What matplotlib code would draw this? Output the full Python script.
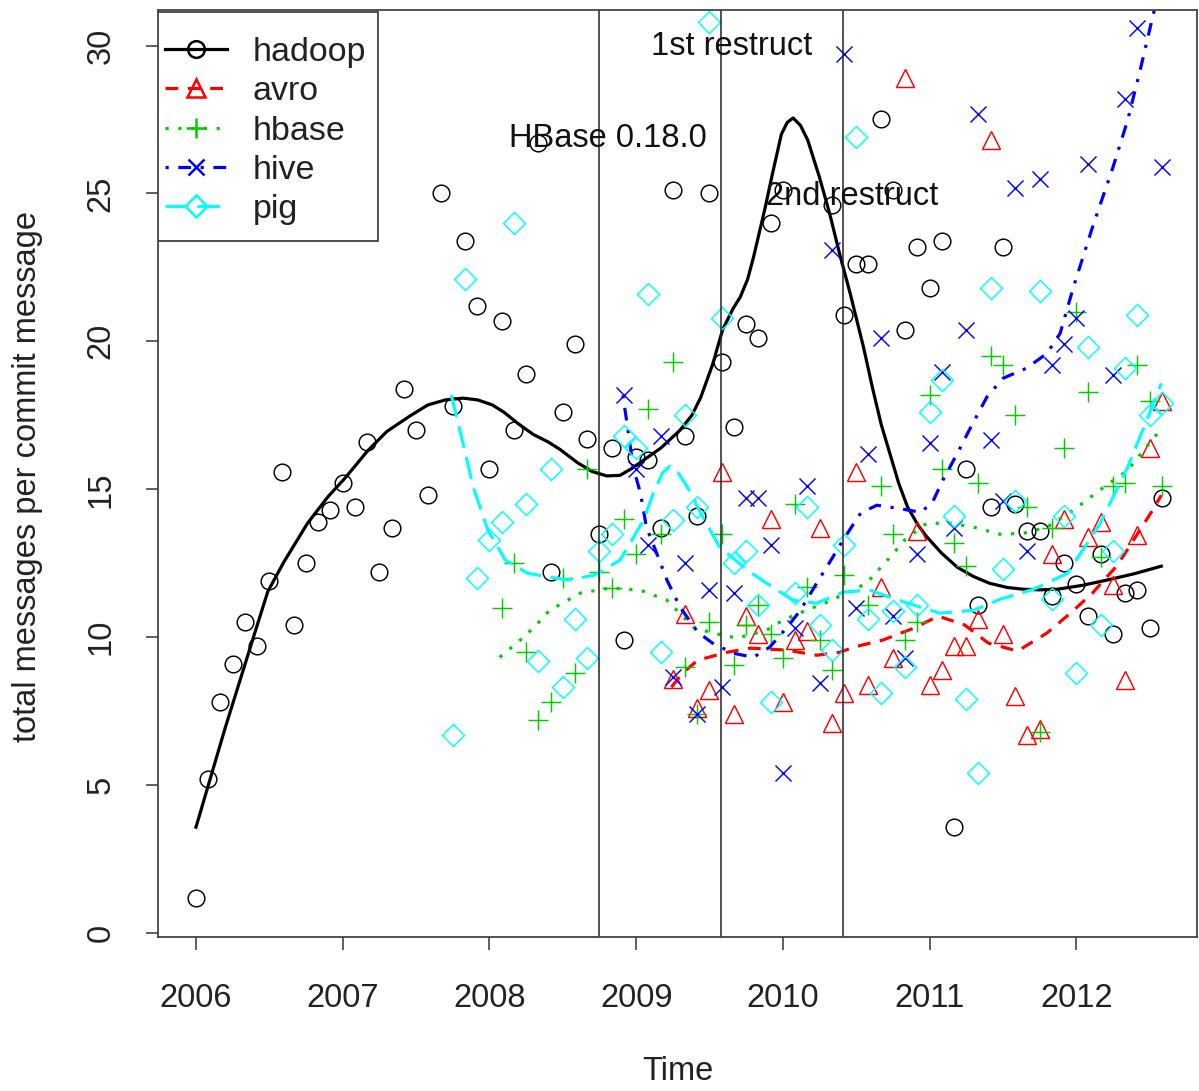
import numpy as np
import matplotlib
matplotlib.use("Agg")
import matplotlib.pyplot as plt
from matplotlib.patches import Rectangle

plt.rcParams['font.family'] = ['Liberation Sans', 'DejaVu Sans']

# monthly ratios, first month of each series given as month index from 2006-01
hadoop_start = 0
hadoop = [1.2, 5.2, 7.8, 9.1, 10.5, 9.7, 11.9, 15.6, 10.4, 12.5,
          13.9, 14.3, 15.2, 14.4, 16.6, 12.2, 13.7, 18.4, 17.0, 14.8,
          25.0, 17.8, 23.4, 21.2, 15.7, 20.7, 17.0, 18.9, 26.7, 12.2,
          17.6, 19.9, 16.7, 13.5, 16.4, 9.9, 16.1, 16.0, 13.7, 25.1,
          16.8, 14.1, 25.0, 19.3, 17.1, 20.6, 20.1, 24.0, 25.1, 33.0,
          35.0, 32.0, 24.6, 20.9, 22.6, 22.6, 27.5, 25.1, 20.4, 23.2,
          21.8, 23.4, 3.6, 15.7, 11.1, 14.4, 23.2, 14.5, 13.6, 13.6,
          11.4, 12.5, 11.8, 10.7, 12.8, 10.1, 11.5, 11.6, 10.3, 14.7]

avro_start = 39
avro = [8.6, 10.8, 7.6, 8.2, 15.6, 7.4, 10.7, 10.1, 14.0, 7.8,
        9.9, 10.2, 13.7, 7.1, 8.1, 15.6, 8.4, 11.7, 9.3, 28.9,
        13.6, 8.4, 8.9, 9.7, 9.7, 10.6, 26.8, 10.1, 8.0, 6.7,
        6.9, 12.8, 14.0, None, 13.4, 13.9, 11.75, 8.55, 13.45, 16.4,
        18.0]

hbase_start = 25
hbase = [11.0, 12.5, 9.5, 7.2, 7.8, 12.0, 8.8, 15.7, 12.2, 11.65,
         14.0, 12.8, 17.7, 13.5, 19.3, 9.0, 7.4, 10.5, 13.5, 9.05,
         10.4, 11.1, 10.1, 9.3, 14.5, 11.7, 9.9, 8.9, 12.1, None,
         11.1, 15.1, 13.5, 9.9, 10.5, 18.2, 15.7, 13.2, 12.4, 15.2,
         19.5, 19.2, 17.5, 14.4, 6.8, 13.7, 16.4, 21.0, 18.3, 12.7,
         15.1, 15.2, 19.2, 18.0, 15.1]

hive_start = 35
hive = [18.2, 15.7, 13.1, 16.8, 8.65, 12.5, 7.4, 11.6, 8.3, 11.5,
        14.7, 14.7, 13.1, 5.4, 10.3, 15.1, 8.45, 23.1, 29.7, 11.0,
        16.2, 20.1, 10.7, 9.3, 12.8, 16.55, 18.95, 13.7, 20.4, 27.7,
        16.65, 14.6, 25.2, 12.9, 25.5, 19.2, 19.9, 20.8, 26.0, 34.0,
        18.85, 28.2, 30.6, 38.0, 25.9]

pig_start = 21
pig = [6.7, 22.1, 12.0, 13.3, 13.9, 24.0, 14.5, 9.2, 15.7, 8.3,
       10.6, 9.3, 12.9, 13.5, 16.8, 16.4, 21.6, 9.5, 13.95, 17.5,
       14.4, 30.8, 20.8, 12.5, 12.9, 11.1, 7.8, None, 11.5, 14.4,
       10.4, 9.55, 13.1, 26.9, 10.6, 8.1, 10.9, 9.0, 11.1, 17.6,
       18.7, 14.1, 7.9, 5.4, 21.8, 12.3, 14.6, None, 21.7, 11.3,
       14.1, 8.8, 19.8, 10.4, 12.9, 19.1, 20.9, 17.5, 17.9]

# smoothed trend lines (year, value)
hadoop_fit_x = [2006.00, 2006.20, 2006.42, 2006.49, 2006.60, 2006.76, 2006.90, 2007.02,
                2007.17, 2007.30, 2007.45, 2007.58, 2007.70, 2007.82, 2007.92, 2008.02,
                2008.10, 2008.20, 2008.30, 2008.40, 2008.48, 2008.60, 2008.70, 2008.80,
                2008.89, 2008.97, 2009.05, 2009.17, 2009.30, 2009.38, 2009.44, 2009.52,
                2009.59, 2009.66, 2009.71, 2009.76, 2009.80, 2009.88, 2009.93, 2009.99,
                2010.03, 2010.07, 2010.12, 2010.17, 2010.25, 2010.32, 2010.39, 2010.46,
                2010.55, 2010.61, 2010.67, 2010.73, 2010.79, 2010.85, 2010.92, 2010.98,
                2011.08, 2011.19, 2011.30, 2011.41, 2011.53, 2011.64, 2011.75, 2011.87,
                2012.04, 2012.21, 2012.40, 2012.58]
hadoop_fit_y = [3.58, 6.95, 10.45, 11.55, 12.55, 13.85, 14.75, 15.40,
                16.30, 16.95, 17.45, 17.85, 18.02, 18.08, 18.02, 17.85,
                17.60, 17.20, 16.85, 16.60, 16.35, 15.90, 15.60, 15.45,
                15.47, 15.70, 15.98, 16.40, 17.00, 17.50, 18.10, 19.20,
                20.40, 21.10, 21.50, 22.10, 22.84, 24.53, 25.68, 27.00,
                27.40, 27.55, 27.30, 26.80, 25.54, 24.30, 22.90, 21.60,
                19.80, 18.45, 17.20, 16.20, 15.20, 14.40, 13.80, 13.40,
                12.85, 12.36, 12.05, 11.82, 11.68, 11.62, 11.60, 11.62,
                11.75, 11.93, 12.15, 12.40]

avro_fit_x = [2009.24, 2009.32, 2009.42, 2009.62, 2009.78, 2010.03, 2010.23, 2010.39,
              2010.48, 2010.68, 2010.89, 2011.06, 2011.24, 2011.40, 2011.60, 2011.80,
              2011.96, 2012.11, 2012.28, 2012.39, 2012.52, 2012.58]
avro_fit_y = [8.31, 8.80, 9.22, 9.49, 9.63, 9.56, 9.39, 9.49,
              9.66, 9.90, 10.30, 10.71, 10.41, 9.80, 9.53, 10.14,
              10.81, 11.49, 12.43, 13.28, 14.29, 14.80]

hbase_fit_x = [2008.07, 2008.21, 2008.32, 2008.41, 2008.62, 2008.82, 2009.03, 2009.21,
               2009.39, 2009.52, 2009.69, 2009.89, 2010.00, 2010.16, 2010.30, 2010.57,
               2010.73, 2010.83, 2010.98, 2011.14, 2011.30, 2011.48, 2011.64, 2011.80,
               2011.98, 2012.16, 2012.35, 2012.57]
hbase_fit_y = [9.32, 9.90, 10.41, 10.91, 11.49, 11.66, 11.59, 11.25,
               10.34, 10.14, 9.97, 10.24, 10.57, 10.91, 11.18, 11.82,
               12.70, 13.28, 13.85, 13.85, 13.72, 13.48, 13.51, 13.72,
               14.29, 14.97, 15.64, 16.99]

hive_fit_x = [2008.91, 2008.95, 2008.98, 2009.03, 2009.07, 2009.14, 2009.21, 2009.30,
              2009.42, 2009.52, 2009.66, 2009.80, 2009.91, 2010.03, 2010.12, 2010.23,
              2010.34, 2010.41, 2010.53, 2010.64, 2010.78, 2010.94, 2011.02, 2011.09,
              2011.19, 2011.28, 2011.39, 2011.50, 2011.66, 2011.80, 2011.89, 2011.98,
              2012.11, 2012.25, 2012.35, 2012.43, 2012.52, 2012.58]
hive_fit_y = [18.18, 16.80, 15.74, 14.86, 13.72, 12.84, 11.93, 11.01,
              10.17, 9.80, 9.46, 9.32, 9.66, 10.34, 10.91, 11.82,
              12.70, 13.28, 14.19, 14.46, 14.36, 14.22, 14.56, 15.30,
              16.22, 17.09, 18.11, 18.75, 19.09, 19.59, 20.27, 21.82,
              23.85, 25.88, 27.47, 29.05, 30.95, 32.20]

pig_fit_x = [2007.74, 2007.81, 2007.89, 2007.99, 2008.11, 2008.26, 2008.53, 2008.71,
             2008.89, 2009.05, 2009.12, 2009.18, 2009.23, 2009.28, 2009.35, 2009.44,
             2009.57, 2009.76, 2009.89, 2010.07, 2010.23, 2010.41, 2010.59, 2010.85,
             2011.07, 2011.30, 2011.48, 2011.71, 2011.94, 2012.16, 2012.35, 2012.50,
             2012.58]
pig_fit_y = [18.18, 16.76, 15.07, 13.61, 12.60, 12.16, 11.93, 12.09,
             12.60, 13.95, 14.90, 15.55, 15.78, 15.60, 15.07, 14.19,
             13.04, 12.26, 11.82, 11.25, 11.15, 11.52, 11.59, 11.15,
             10.81, 10.91, 11.28, 11.62, 12.16, 13.82, 15.74, 17.57,
             18.58]

events = [2008.75, 2009.58, 2010.41]
event_labels = ["HBase 0.18.0", "1st restruct", "2nd restruct"]
event_label_pos = [(2008.81, 26.85), (2009.65, 29.95), (2010.47, 24.9)]

names = ["hadoop", "avro", "hbase", "hive", "pig"]
colors = ["black", "#ff0000", "#00cd00", "#0000ff", "#00ffff"]
markers = ["o", "^", "+", "x", "D"]
msizes = [12, 13, 15, 12, 11]
dashes = [None, (4, 3), (1, 3), (1, 3, 4, 3), (7, 3)]

FS = 23.5


def months_to_years(start, n):
    return 2006 + (start + np.arange(n)) / 12.0


def main():
    W, H = 1199, 1091
    fig = plt.figure(figsize=(W / 100, H / 100), dpi=100)
    ax = fig.add_axes([158 / W, 1 - 937 / H, (1197 - 158) / W, (937 - 10) / H])

    series = [(hadoop_start, hadoop, hadoop_fit_x, hadoop_fit_y),
              (avro_start, avro, avro_fit_x, avro_fit_y),
              (hbase_start, hbase, hbase_fit_x, hbase_fit_y),
              (hive_start, hive, hive_fit_x, hive_fit_y),
              (pig_start, pig, pig_fit_x, pig_fit_y)]

    handles = []
    for i, (start, vals, fx, fy) in enumerate(series):
        y = np.array([np.nan if v is None else v for v in vals], dtype=float)
        x = months_to_years(start, len(y))
        ax.plot(x, y, linestyle="none", marker=markers[i], ms=msizes[i],
                mfc="none", mec=colors[i], mew=1.05)
        line, = ax.plot(fx, fy, color=colors[i], lw=2.3)
        if dashes[i] is not None:
            line.set_dashes(dashes[i])
        h, = ax.plot([], [], color=colors[i], lw=2.3, marker=markers[i], ms=msizes[i],
                     mfc="none", mec=colors[i], mew=1.8, label=names[i])
        if dashes[i] is not None:
            h.set_dashes(dashes[i])
        handles.append(h)

    for ev in events:
        ax.axvline(ev, color="#222222", lw=1.1)
    for lab, (tx, ty) in zip(event_labels, event_label_pos):
        ax.text(tx, ty, lab, ha="center", va="center", fontsize=FS, color="#111111")

    ax.set_xlim(2005.741, 2012.823)
    ax.set_ylim(-0.135, 31.2)
    ax.set_xticks([2006, 2007, 2008, 2009, 2010, 2011, 2012])
    ax.set_yticks([0, 5, 10, 15, 20, 25, 30])
    ax.set_yticklabels(["0", "5", "10", "15", "20", "25", "30"], rotation=90, va="center")
    ax.tick_params(axis="both", direction="out", length=9, width=1.1, labelsize=FS,
                   color="#333333", labelcolor="#222222", pad=24)
    ax.tick_params(axis="y", pad=21)
    for sp in ax.spines.values():
        sp.set_color("#444444")
        sp.set_linewidth(1.3)

    # legend box drawn as in the original (box flush with the plot corner)
    pw, ph = 1197 - 158, 937 - 10
    box = Rectangle((0, 1 - (241 - 10) / ph), (378 - 158) / pw, (241 - 12) / ph,
                    transform=ax.transAxes, facecolor="white", edgecolor="#333333",
                    lw=1.2, zorder=4)
    ax.add_patch(box)
    leg = ax.legend(handles=handles, loc="upper left",
                    bbox_to_anchor=((165 - 158) / pw, 1 - (37 - 10) / ph),
                    fontsize=24.5, frameon=False, borderaxespad=0, borderpad=0,
                    handlelength=1.82, handletextpad=0.75, labelspacing=0.245)
    leg.set_zorder(5)
    for t in leg.get_texts():
        t.set_color("#222222")

    fig.text(678 / W, 1 - 1072 / H, "Time", ha="center", va="center",
             fontsize=FS, color="#222222")
    fig.text(28 / W, 1 - 477 / H, "total messages per commit message", ha="center",
             va="center", rotation=90, fontsize=FS, color="#222222")

    fig.savefig("out.png", dpi=100)


if __name__ == '__main__':
    main()
